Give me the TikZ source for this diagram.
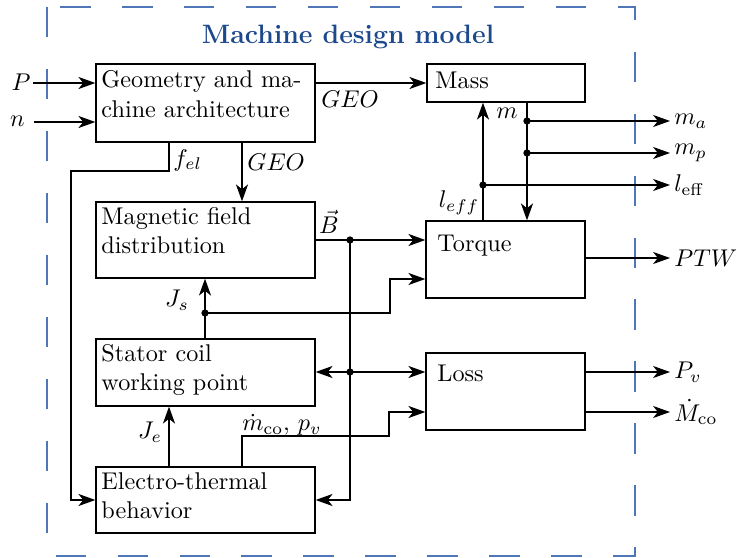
\documentclass[tikz,border=0pt]{standalone}
\usetikzlibrary{arrows.meta,fit,calc}
\definecolor{frameblue}{RGB}{79,119,184}
\definecolor{titleblue}{RGB}{28,72,140}
\begin{document}
\begin{tikzpicture}[x=0.4132pt,y=-0.4132pt,
  box/.style={draw,line width=0.55pt,inner sep=0pt,fit={#1}},
  txt/.style={anchor=base west,align=left,inner sep=0pt},
  lbl/.style={inner sep=0pt},
  conn/.style={line width=0.5pt},
  arr/.style={conn,-{Stealth[length=7pt,width=5pt,inset=2pt]}},
  dotc/.style={circle,fill,inner sep=0pt,minimum size=3pt}]
\useasboundingbox (0,0) rectangle (737,558);
% frame
\draw[frameblue,line width=0.6pt,dash pattern=on 12.6pt off 13pt] (47,7) rectangle (635,556);
\node[text=titleblue,font=\fontsize{11}{13}\selectfont\bfseries] (title) at (348,37) {Machine design model};
% boxes
\node[box={(96,64) (315,142)}] (geo) {};
\node[box={(427,64) (585,102)}] (mass) {};
\node[box={(96,202) (315,278)}] (mag) {};
\node[box={(426,221) (585,298)}] (torque) {};
\node[box={(96,339) (315,406)}] (stator) {};
\node[box={(426,353) (585,430)}] (loss) {};
\node[box={(96,467) (315,533)}] (elec) {};
% box texts (base = baseline of last line)
\node[txt] (geoT) at (101,117) {Geometry and ma-\\chine architecture};
\node[txt] (massT) at (435,89) {Mass};
\node[txt] (magT) at (101,254) {Magnetic field\\distribution};
\node[txt] (torqueT) at (437,252) {Torque};
\node[txt] (statorT) at (101,391) {Stator coil\\working point};
\node[txt] (lossT) at (437,382) {Loss};
\node[txt] (elecT) at (101,519) {Electro-thermal\\behavior};
% inputs
\node[lbl] (P) at (21,82) {$P$};
\node[lbl] (n) at (17.5,121) {$n$};
\coordinate (Pin) at (33,83);
\coordinate (nin) at (34,122);
\draw[arr] (Pin) -- (Pin -| geo.west);
\draw[arr] (nin) -- (nin -| geo.west);
% geo -> mass
\draw[arr] (geo.east |- mass.west) -- (mass.west);
\node[lbl] (geo1) at (350,99) {$GEO$};
% geo -> mag
\coordinate (xg) at (242,0);
\draw[arr] (xg |- geo.south) -- (xg |- mag.north);
\node[lbl,anchor=west] (geo2) at (247,162) {$GEO$};
% f_el
\coordinate (xf) at (169,0);
\coordinate (fa) at (169,171);
\coordinate (fb) at (71,171);
\coordinate (fc) at (71,500);
\draw[arr] (xf |- geo.south) -- (fa) -- (fb) -- (fc) -- (fc -| elec.west);
\node[lbl,anchor=base west] (fel) at (173,166) {$f_{el}$};
% mass outputs
\coordinate (xm) at (527,0);
\draw[arr] (xm |- mass.south) -- (xm |- torque.north);
\node[lbl] (mlab) at (507,113) {$m$};
\node[dotc] (dma) at (527,121) {};
\node[dotc] (dmp) at (527,153) {};
\coordinate (oma) at (670,121);
\coordinate (omp) at (670,153);
\draw[arr] (dma.center) -- (oma);
\draw[arr] (dmp.center) -- (omp);
\node[lbl,anchor=west] (ma) at (674,121) {$m_a$};
\node[lbl,anchor=west] (mp) at (674,153) {$m_p$};
% l_eff
\coordinate (xl) at (483,0);
\draw[arr] (xl |- torque.north) -- (xl |- mass.south);
\node[dotc] (dle) at (483,185) {};
\coordinate (ole) at (670,185);
\draw[arr] (dle.center) -- (ole);
\node[lbl,anchor=west] (le) at (674,185) {$l_{\mathrm{eff}}$};
\node[lbl] (leffl) at (459,203) {$l_{eff}$};
% B
\draw[arr] (mag.east) -- (mag.east -| torque.west);
\node[dotc] (dB) at (350,240) {};
\node[lbl,anchor=base] (Blab) at (329,234) {$\vec{B}$};
\coordinate (eb) at (350,500);
\draw[arr] (dB.center) -- (eb) -- (eb -| elec.east);
\node[dotc] (dSL) at (350,372) {};
\draw[arr] (dSL.center) -- (dSL.center -| stator.east);
\draw[arr] (dSL.center) -- (dSL.center -| loss.west);
% J_s
\coordinate (xj) at (205,0);
\draw[arr] (xj |- stator.north) -- (xj |- mag.south);
\node[dotc] (dJ) at (205,313) {};
\node[lbl] (Js) at (177,300) {$J_s$};
\coordinate (ja) at (390,313);
\coordinate (jb) at (390,279);
\draw[arr] (dJ.center) -- (ja) -- (jb) -- (jb -| torque.west);
% torque output
\coordinate (optw) at (670,258);
\draw[arr] (optw -| torque.east) -- (optw);
\node[lbl,anchor=west] (ptw) at (674,258) {$PTW$};
% J_e
\draw[arr] (xf |- elec.north) -- (xf |- stator.south);
\node[lbl] (Je) at (150,432) {$J_e$};
% mco, pv
\coordinate (ka) at (242,436);
\coordinate (kb) at (389,436);
\coordinate (kc) at (389,412);
\draw[arr] (xg |- elec.north) -- (ka) -- (kb) -- (kc) -- (kc -| loss.west);
\node[lbl,anchor=base west] (mco) at (242,431) {$\dot{m}_{\mathrm{co}},\,p_v$};
% loss outputs
\coordinate (opv) at (670,372);
\coordinate (omc) at (670,412);
\draw[arr] (opv -| loss.east) -- (opv);
\draw[arr] (omc -| loss.east) -- (omc);
\node[lbl,anchor=west] (pv) at (674,372) {$P_v$};
\node[lbl,anchor=west] (Mco) at (674,412) {$\dot{M}_{\mathrm{co}}$};
\end{tikzpicture}
\end{document}
